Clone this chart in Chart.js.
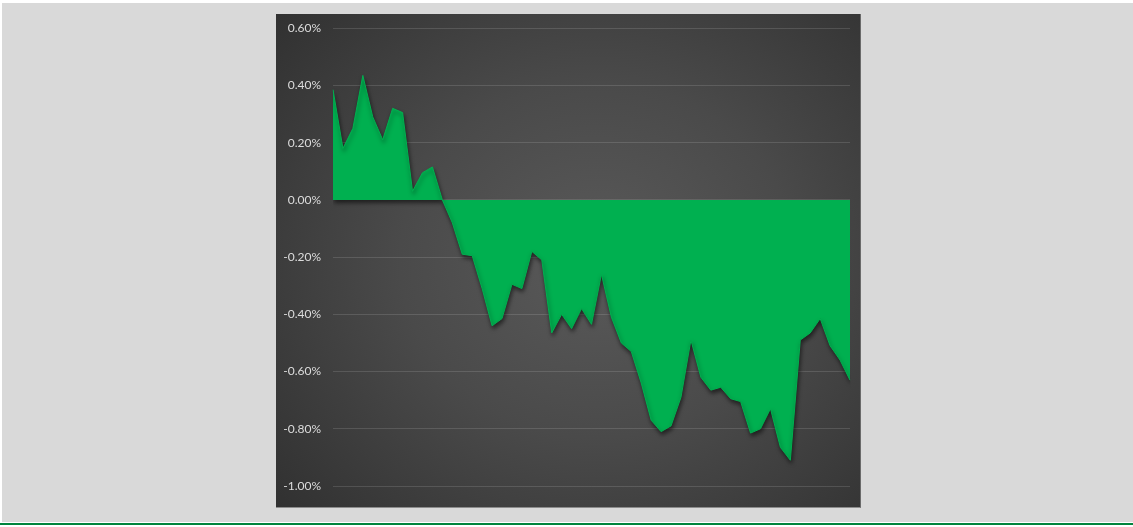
<!DOCTYPE html>
<html>
<head>
<meta charset="utf-8">
<script src="https://cdn.jsdelivr.net/npm/chart.js@4.4.1/dist/chart.umd.min.js"></script>
<style>
  html, body { margin: 0; padding: 0; background: #ffffff; width: 1133px; height: 527px; overflow: hidden; }
  .page { position: absolute; left: 2px; top: 3px; width: 1131px; height: 519px; background: #d9d9d9; }
  .rule { position: absolute; left: 0; top: 523px; width: 1133px; height: 2px; background: #00843d; }
  .panel {
    position: absolute; left: 276px; top: 14px; width: 584px; height: 493px; overflow: hidden;
    background: radial-gradient(ellipse 75% 80% at 55% 50%, #5a5a5a 0%, #4a4a4a 45%, #2f2f2f 100%);
    border-bottom: 1px solid #8c8c8c; border-right: 1px solid #6a6a6a;
  }
  .panel canvas { position: absolute; left: 0; top: -5px; }
</style>
</head>
<body>
<div class="page"></div>
<div class="rule"></div>
<div class="panel"><canvas id="chart" width="584" height="498"></canvas></div>
<script>
// daily values in percent
const values = [
  0.385, 0.18, 0.25, 0.435, 0.29, 0.21, 0.32, 0.305, 0.03, 0.095,
  0.115, 0.0, -0.08, -0.19, -0.195, -0.31, -0.44, -0.415, -0.295, -0.31,
  -0.18, -0.21, -0.465, -0.40, -0.45, -0.38, -0.435, -0.26, -0.41, -0.50,
  -0.53, -0.64, -0.77, -0.81, -0.79, -0.69, -0.49, -0.62, -0.665, -0.655,
  -0.695, -0.705, -0.815, -0.80, -0.73, -0.865, -0.91, -0.49, -0.465, -0.415,
  -0.51, -0.56, -0.63
];
const labels = values.map((v, i) => String(i + 1));
const yMin = -1.0, yMax = 0.6, yStep = 0.2;

// soft drop shadow under the filled area
const shadowPlugin = {
  id: 'areaShadow',
  beforeDatasetsDraw(chart) {
    const ctx = chart.ctx;
    ctx.save();
    ctx.shadowColor = 'rgba(0,0,0,0.55)';
    ctx.shadowBlur = 4;
    ctx.shadowOffsetX = 1;
    ctx.shadowOffsetY = 3;
  },
  afterDatasetsDraw(chart) {
    chart.ctx.restore();
  }
};

new Chart(document.getElementById('chart'), {
  type: 'line',
  data: {
    labels: labels,
    datasets: [{
      data: values,
      fill: 'origin',
      backgroundColor: '#00b050',
      borderColor: '#00b050',
      borderWidth: 1,
      pointRadius: 0,
      tension: 0
    }]
  },
  options: {
    responsive: false,
    animation: false,
    layout: { padding: { top: 0, right: 10, bottom: 21, left: 0 } },
    plugins: { legend: { display: false }, tooltip: { enabled: false } },
    scales: {
      x: { display: false, offset: false },
      y: {
        min: yMin, max: yMax,
        afterFit(scale) { scale.width = 57; },
        ticks: {
          stepSize: yStep,
          padding: 12,
          color: '#dcdcdc',
          font: { family: 'Lato', size: 12 },
          callback: v => v.toFixed(2) + '%'
        },
        grid: { color: 'rgba(255,255,255,0.13)', lineWidth: 1, drawTicks: false },
        border: { display: false }
      }
    }
  },
  plugins: [shadowPlugin]
});
</script>
</body>
</html>
